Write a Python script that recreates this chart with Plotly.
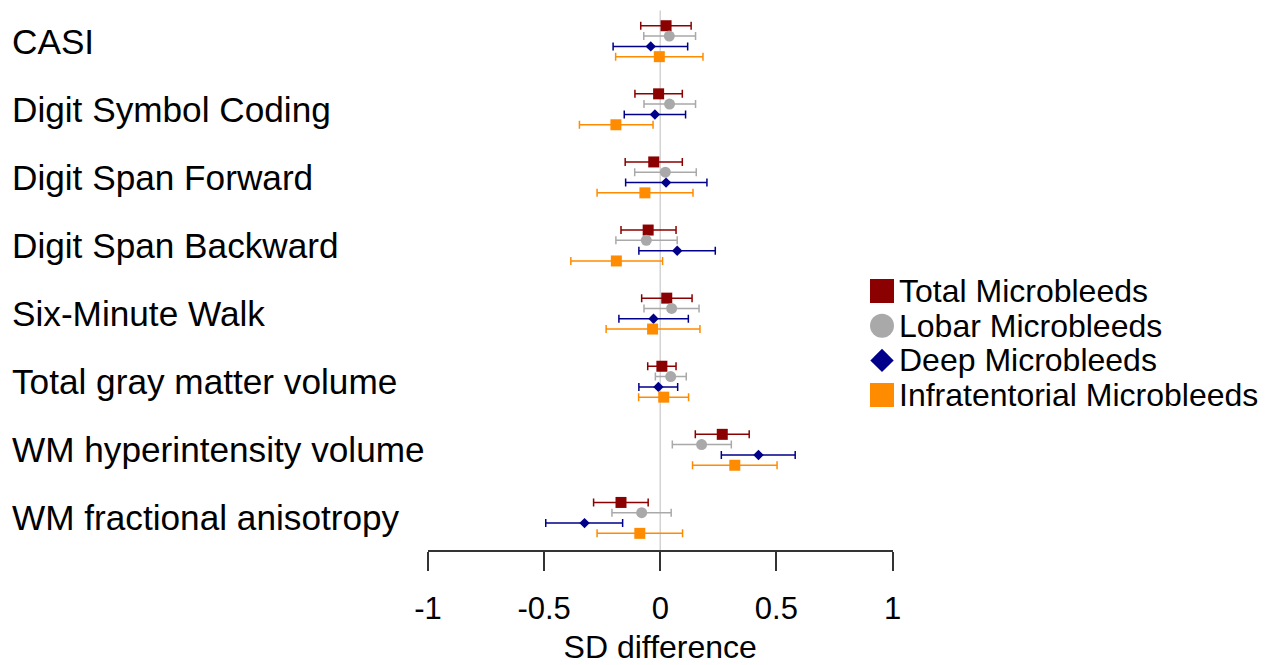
import plotly.graph_objects as go

# ---------------- data ----------------
outcomes = [
    "CASI",
    "Digit Symbol Coding",
    "Digit Span Forward",
    "Digit Span Backward",
    "Six-Minute Walk",
    "Total gray matter volume",
    "WM hyperintensity volume",
    "WM fractional anisotropy",
]

series_names = ["Total Microbleeds", "Lobar Microbleeds", "Deep Microbleeds", "Infratentorial Microbleeds"]

total_est = [0.025, -0.007, -0.028, -0.052, 0.028, 0.007, 0.267, -0.169]
total_lo = [-0.084, -0.109, -0.151, -0.169, -0.080, -0.054, 0.151, -0.287]
total_hi = [0.133, 0.095, 0.095, 0.068, 0.137, 0.068, 0.383, -0.052]

lobar_est = [0.039, 0.040, 0.022, -0.060, 0.049, 0.045, 0.178, -0.080]
lobar_lo = [-0.071, -0.070, -0.110, -0.191, -0.070, -0.021, 0.052, -0.208]
lobar_hi = [0.152, 0.152, 0.155, 0.073, 0.167, 0.112, 0.306, 0.047]

deep_est = [-0.041, -0.023, 0.025, 0.073, -0.029, -0.008, 0.423, -0.326]
deep_lo = [-0.203, -0.155, -0.149, -0.092, -0.178, -0.092, 0.263, -0.493]
deep_hi = [0.118, 0.109, 0.201, 0.237, 0.121, 0.075, 0.581, -0.162]

infra_est = [-0.004, -0.191, -0.066, -0.189, -0.033, 0.015, 0.321, -0.088]
infra_lo = [-0.192, -0.348, -0.272, -0.385, -0.233, -0.093, 0.139, -0.272]
infra_hi = [0.184, -0.031, 0.141, 0.010, 0.171, 0.122, 0.503, 0.096]

x_tick_vals = [-1, -0.5, 0, 0.5, 1]
x_tick_text = ["-1", "-0.5", "0", "0.5", "1"]
x_title = "SD difference"

# ---------------- styling ----------------
W, H = 1269, 665
PLOT_BOTTOM = 550  # pixel row of the x axis line
FONT = "Liberation Sans, Arial, sans-serif"

styles = [
    dict(color="#8B0000", symbol="square", size=11, legsize=24),
    dict(color="#A9A9A9", symbol="circle", size=11, legsize=24),
    dict(color="#00008B", symbol="diamond", size=8, legsize=18),
    dict(color="#FF8C00", symbol="square", size=11, legsize=24),
]
offsets = [-0.227, -0.076, 0.076, 0.227]

series = [
    (total_est, total_lo, total_hi),
    (lobar_est, lobar_lo, lobar_hi),
    (deep_est, deep_lo, deep_hi),
    (infra_est, infra_lo, infra_hi),
]

fig = go.Figure()

for k, (est, lo, hi) in enumerate(series):
    st = styles[k]
    ys = [i + offsets[k] for i in range(len(outcomes))]
    fig.add_trace(go.Scatter(
        x=est, y=ys, mode="markers", name=series_names[k],
        marker=dict(color=st["color"], symbol=st["symbol"], size=st["size"], line=dict(width=0)),
        error_x=dict(type="data", symmetric=False,
                     array=[h - e for h, e in zip(hi, est)],
                     arrayminus=[e - l for e, l in zip(est, lo)],
                     color=st["color"], thickness=1.5, width=4),
        cliponaxis=False, showlegend=False, hoverinfo="skip",
    ))

# manual legend (on a pixel-space overlay axis)
leg_x = 882
leg_y = [291, 325.7, 360.4, 395]
for k in range(4):
    st = styles[k]
    fig.add_trace(go.Scatter(
        x=[leg_x], y=[leg_y[k]], mode="markers", xaxis="x2", yaxis="y2",
        marker=dict(color=st["color"], symbol=st["symbol"], size=st["legsize"], line=dict(width=0)),
        showlegend=False, hoverinfo="skip", cliponaxis=False,
    ))
    fig.add_annotation(x=leg_x + 15, y=leg_y[k], xref="x2", yref="y2", text=series_names[k],
                       showarrow=False, xanchor="left", yanchor="middle",
                       font=dict(size=32, color="black", family=FONT))

# category labels
for i, name in enumerate(outcomes):
    fig.add_annotation(x=10 / W, y=i, xref="paper", yref="y", text=name, showarrow=False,
                       xanchor="left", yanchor="middle",
                       font=dict(size=35.2, color="black", family=FONT))

# zero reference line
fig.add_shape(type="line", x0=0, x1=0, xref="x", y0=-0.45, y1=len(outcomes) - 0.529, yref="y",
              line=dict(color="#D3D3D3", width=1.5), layer="below")

px_per_unit = 68.1
top_val = -41.2 / px_per_unit
bot_val = (PLOT_BOTTOM - 41.2) / px_per_unit

fig.update_layout(
    width=W, height=H,
    margin=dict(l=0, r=0, t=0, b=H - PLOT_BOTTOM, pad=0, autoexpand=False),
    paper_bgcolor="white", plot_bgcolor="rgba(0,0,0,0)",
    font=dict(family=FONT, color="black"),
    xaxis=dict(domain=[428 / W, 892.5 / W], range=[-1, 1], showgrid=False, zeroline=False,
               showline=True, linecolor="#333333", linewidth=1.5,
               ticks="outside", ticklen=19, tickwidth=1.5, tickcolor="#333333",
               tickvals=x_tick_vals, ticktext=x_tick_text, ticklabelstandoff=11,
               tickfont=dict(size=31, color="black", family=FONT),
               title=dict(text=x_title, font=dict(size=32, color="black", family=FONT), standoff=11),
               anchor="y", automargin=False),
    yaxis=dict(domain=[0, 1], range=[bot_val, top_val], visible=False, anchor="x", automargin=False),
    xaxis2=dict(domain=[0, 1], range=[0, W], visible=False, anchor="y2", automargin=False),
    yaxis2=dict(domain=[0, 1], range=[PLOT_BOTTOM, 0], visible=False, anchor="x2", automargin=False),
    showlegend=False,
)

fig.write_html("out.html", config={"displayModeBar": False},
               post_script="document.body.style.margin='0';document.body.style.overflow='hidden';")
